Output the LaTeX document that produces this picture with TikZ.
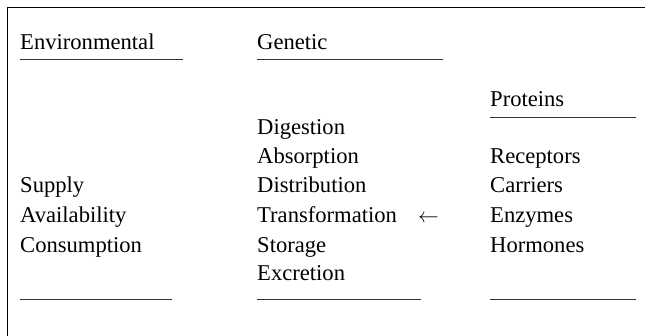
\documentclass[tikz,border=0pt]{standalone}
\usepackage{fontspec}
\setmainfont{Liberation Serif}
\begin{document}
\begin{tikzpicture}[x=1pt,y=-1pt,
  lbl/.style={anchor=base west,inner sep=0pt,font=\fontsize{22.6}{27}\selectfont},
  rule/.style={line width=1pt,draw=black!80}]
\useasboundingbox (0,0) rectangle (645,336);
\draw[line width=1pt] (7,336) -- (7,7.5) -- (645,7.5);
% headers
\node[lbl] (env) at (20,50) {Environmental};
\node[lbl] (gen) at (257,50) {Genetic};
\node[lbl] (pro) at (490,107) {Proteins};
\draw[rule] (20,60) -- (183,60);
\draw[rule] (257,60) -- (443,60);
\draw[rule] (490,118) -- (636,118);
% environmental
\node[lbl] (sup) at (20,193) {Supply};
\node[lbl] (ava) at (20,223) {Availability};
\node[lbl] (con) at (20,253) {Consumption};
% genetic
\node[lbl] (dig) at (257,135) {Digestion};
\node[lbl] (abs) at (257,164) {Absorption};
\node[lbl] (dis) at (257,193) {Distribution};
\node[lbl] (tra) at (257,223) {Transformation};
\node[lbl] (sto) at (257,253) {Storage};
\node[lbl] (exc) at (257,281) {Excretion};
% proteins
\node[lbl] (rec) at (490,164) {Receptors};
\node[lbl] (car) at (490,193) {Carriers};
\node[lbl] (enz) at (490,223) {Enzymes};
\node[lbl] (hor) at (490,253) {Hormones};
\node[lbl] (arr) at (418,223) {$\leftarrow$};
% bottom rules
\draw[rule] (20,300) -- (172,300);
\draw[rule] (257,300) -- (421,300);
\draw[rule] (490,300) -- (636,300);
\end{tikzpicture}
\end{document}
